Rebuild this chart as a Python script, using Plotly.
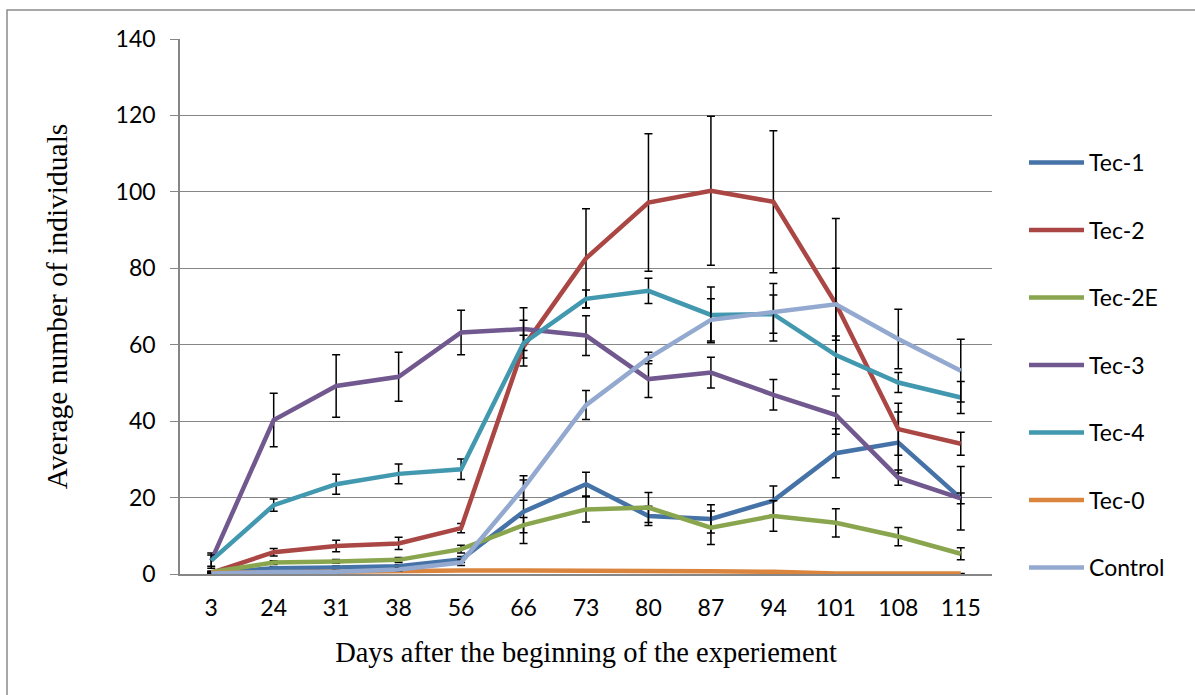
import plotly.graph_objects as go

days = ["3", "24", "31", "38", "56", "66", "73", "80", "87", "94", "101", "108", "115"]

tec1 = [0.2, 1.5, 1.7, 2.0, 3.8, 16.3, 23.5, 15.2, 14.4, 19.2, 31.6, 34.4, 19.8]
tec1_err = [0.3, 0.4, 0.4, 0.5, 0.8, 8.3, 3.1, 2.5, 3.7, 3.8, 6.4, 8.0, 8.3]

tec2 = [0.3, 5.7, 7.3, 8.0, 12.0, 59.5, 82.6, 97.2, 100.3, 97.4, 70.7, 37.9, 34.1]
tec2_err = [0.3, 1.0, 1.5, 1.6, 1.2, 3.0, 13.0, 18.0, 19.5, 18.6, 22.3, 6.8, 3.0]

tec2e = [0.5, 3.0, 3.3, 3.7, 6.5, 12.8, 16.9, 17.4, 12.1, 15.2, 13.4, 9.8, 5.3]
tec2e_err = [0.3, 0.5, 0.5, 0.6, 1.0, 2.0, 3.3, 3.9, 4.4, 4.0, 3.7, 2.4, 1.6]

tec3 = [3.5, 40.3, 49.2, 51.6, 63.2, 64.1, 62.4, 51.0, 52.7, 46.9, 41.6, 25.2, 19.8]
tec3_err = [2.0, 7.0, 8.2, 6.4, 5.8, 5.6, 5.2, 4.8, 4.0, 4.0, 5.0, 2.0, 1.4]

tec4 = [3.5, 18.0, 23.5, 26.2, 27.4, 60.4, 72.0, 74.1, 67.8, 68.0, 57.3, 50.1, 46.2]
tec4_err = [1.5, 1.6, 2.6, 2.6, 2.7, 6.0, 2.3, 3.3, 7.3, 5.0, 5.0, 2.6, 4.2]

tec0 = [0.3, 0.5, 0.6, 0.7, 0.9, 0.9, 0.9, 0.9, 0.7, 0.6, 0.1, 0.1, 0.1]
tec0_err = [0, 0, 0, 0, 0, 0, 0, 0, 0, 0, 0, 0, 0]

control = [0.1, 0.5, 0.6, 1.2, 3.0, 22.5, 44.2, 56.5, 66.5, 68.5, 70.6, 61.5, 53.2]
control_err = [0.2, 0.3, 0.3, 0.4, 0.8, 3.2, 3.8, 1.5, 5.5, 7.5, 9.4, 7.8, 8.2]

series = [
    ("Tec-1", tec1, tec1_err, "#4572A7"),
    ("Tec-2", tec2, tec2_err, "#AA4643"),
    ("Tec-2E", tec2e, tec2e_err, "#89A54E"),
    ("Tec-3", tec3, tec3_err, "#71588F"),
    ("Tec-4", tec4, tec4_err, "#4198AF"),
    ("Tec-0", tec0, tec0_err, "#DB843D"),
    ("Control", control, control_err, "#93A9CF"),
]

fig = go.Figure()
for name, vals, errs, col in series:
    fig.add_trace(go.Scatter(
        x=days, y=vals, name=name, mode="lines", legendgroup=name,
        line=dict(color=col, width=4.5),
        error_y=dict(type="data", array=errs, visible=True, color="black",
                     thickness=1.5, width=4),
    ))

W, H = 1195, 695
L, R, T, B = 180, 992, 39, 574

def px_x(p):
    return (p - L) / (R - L)

def px_y(p):
    return (B - p) / (B - T)

fig.update_layout(
    width=W, height=H,
    margin=dict(l=L, r=W - R, t=T, b=H - B),
    paper_bgcolor="white", plot_bgcolor="white",
    font=dict(family="Lato", size=23, color="black"),
    showlegend=True,
    legend=dict(x=px_x(1024), xanchor="left", y=px_y(141), yanchor="top",
                tracegroupgap=34.6, itemwidth=55, font=dict(size=23),
                bgcolor="rgba(0,0,0,0)"),
    xaxis=dict(type="category", range=[-0.5, 12.5], showgrid=False,
               showline=True, linecolor="#868686", linewidth=1.5,
               ticks="", ticklabelstandoff=13,
               title=dict(text="Days after the beginning of the experiement",
                          font=dict(family="Liberation Serif", size=28.5),
                          standoff=22)),
    yaxis=dict(range=[0, 140], dtick=20, showgrid=True, gridcolor="#868686",
               gridwidth=1.3, showline=True, linecolor="#868686", linewidth=1.5,
               ticks="outside", ticklen=8, tickcolor="#868686", tickwidth=1.3,
               ticklabelstandoff=10, zeroline=False,
               title=dict(text="Average number of individuals",
                          font=dict(family="Liberation Serif", size=29.5),
                          standoff=39)),
    shapes=[dict(type="rect", xref="paper", yref="paper",
                 x0=px_x(7), x1=px_x(1200), y0=px_y(702), y1=px_y(10),
                 line=dict(color="#8c8c8c", width=1.5), layer="below")],
)

fig.write_html("out.html")
